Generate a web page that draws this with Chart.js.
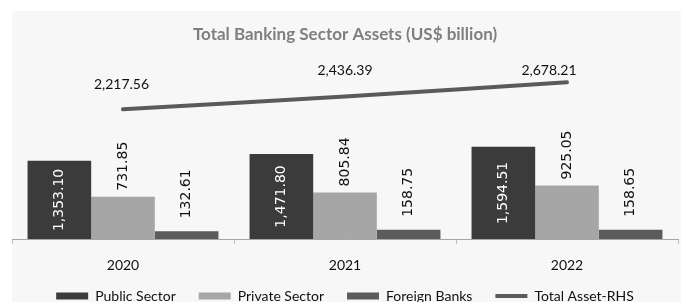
<!DOCTYPE html>
<html>
<head>
<meta charset="utf-8">
<script src="https://cdn.jsdelivr.net/npm/chart.js@4.4.1/dist/chart.umd.min.js"></script>
<style>
  html, body { margin: 0; padding: 0; background: #ffffff; overflow: hidden; width: 681px; height: 302px; }
  #wrap { position: absolute; left: 12px; top: 11px; width: 669px; height: 291px; background: #f7f7f7; overflow: hidden; }
  canvas { display: block; }
</style>
</head>
<body>
<div id="wrap"><canvas id="c" width="669" height="302"></canvas></div>
<script>
// ---- data ----
const categories = ['2020', '2021', '2022'];
const publicSector = [1353.10, 1471.80, 1594.51];
const privateSector = [731.85, 805.84, 925.05];
const foreignBanks = [132.61, 158.75, 158.65];
const totalAsset = [2217.56, 2436.39, 2678.21];
const seriesNames = ['Public Sector', 'Private Sector', 'Foreign Banks', 'Total Asset-RHS'];
const chartTitle = 'Total Banking Sector Assets (US$ billion)';

// ---- styling ----
const COLORS = { pub: '#3b3b3b', pri: '#a6a6a6', for: '#5b5b5b', line: '#5a5a5a' };
const CAL = 'Lato, "Open Sans", sans-serif';
const fmt = v => v.toLocaleString('en-US', { minimumFractionDigits: 2, maximumFractionDigits: 2 });
// placement tweaks for the line labels (dx, dy in px relative to the point)
const lineLabelShift = [[-1.5, -25], [0, -25.5], [-18, -11.5]];
const outsideGap = { 1: 6, 2: 13 };

// let the category labels overlap the legend's empty top padding without being clipped
const axisRoomPlugin = {
  id: 'axisRoom',
  afterLayout(chart) {
    const x = chart.scales.x;
    x.bottom = x.top + 45;
  }
};

const labelPlugin = {
  id: 'valueLabels',
  afterDatasetsDraw(chart) {
    const ctx = chart.ctx;
    ctx.save();
    ctx.font = '14px "DejaVu Sans", Verdana, sans-serif';
    [0, 1, 2].forEach(di => {
      const meta = chart.getDatasetMeta(di);
      meta.data.forEach((bar, i) => {
        const txt = fmt(chart.data.datasets[di].data[i]);
        ctx.save();
        if (di === 0) {
          ctx.translate(bar.x, (bar.y + bar.base) / 2);
          ctx.rotate(-Math.PI / 2);
          ctx.fillStyle = '#ffffff';
          ctx.textAlign = 'center';
        } else {
          ctx.translate(bar.x, bar.y - outsideGap[di]);
          ctx.rotate(-Math.PI / 2);
          ctx.fillStyle = '#111111';
          ctx.textAlign = 'left';
        }
        ctx.textBaseline = 'middle';
        ctx.fillText(txt, 0, 0);
        ctx.restore();
      });
    });
    const lm = chart.getDatasetMeta(3);
    ctx.font = '14px ' + CAL;
    ctx.fillStyle = '#111111';
    ctx.textAlign = 'center';
    ctx.textBaseline = 'middle';
    lm.data.forEach((pt, i) => {
      const s = lineLabelShift[i];
      ctx.fillText(fmt(chart.data.datasets[3].data[i]), pt.x + s[0], pt.y + s[1]);
    });
    ctx.restore();
  }
};

new Chart(document.getElementById('c'), {
  data: {
    labels: categories,
    datasets: [
      { type: 'bar', label: seriesNames[0], data: publicSector, backgroundColor: COLORS.pub, yAxisID: 'y', pointStyle: 'rect' },
      { type: 'bar', label: seriesNames[1], data: privateSector, backgroundColor: COLORS.pri, yAxisID: 'y', pointStyle: 'rect' },
      { type: 'bar', label: seriesNames[2], data: foreignBanks, backgroundColor: COLORS.for, yAxisID: 'y', pointStyle: 'rect' },
      { type: 'line', label: seriesNames[3], data: totalAsset, borderColor: COLORS.line, backgroundColor: COLORS.line,
        borderWidth: 4, pointRadius: 0, pointHoverRadius: 0, pointStyle: 'line', tension: 0.05, borderCapStyle: 'round',
        yAxisID: 'y1' }
    ]
  },
  options: {
    responsive: false,
    devicePixelRatio: 1,
    animation: false,
    layout: { padding: { left: 0, right: 3, top: 0, bottom: 0 } },
    datasets: { bar: { categoryPercentage: 0.86, barPercentage: 1.0, borderWidth: 0 } },
    scales: {
      x: {
        offset: true,
        grid: { display: true, drawOnChartArea: false, drawTicks: true, tickLength: 5, color: '#bfbfbf', offset: true },
        border: { display: true, color: '#a6a6a6', width: 1 },
        ticks: { color: '#111111', font: { family: CAL, size: 14, lineHeight: 0.1 }, padding: 20.3, maxRotation: 0 },
        afterFit: scale => { scale.height = 27; }
      },
      y: { display: false, min: 0, max: 3000 },
      y1: { display: false, min: 0, max: 2964, position: 'right' }
    },
    plugins: {
      title: {
        display: true, text: chartTitle, color: '#7f7f7f',
        font: { family: CAL, size: 17, weight: 'bold' },
        padding: { top: 13.3, bottom: 20.9 }
      },
      legend: {
        position: 'bottom',
        labels: {
          usePointStyle: true, pointStyleWidth: 32, boxHeight: 7, padding: 23,
          color: '#111111', font: { family: CAL, size: 14 }
        }
      },
      tooltip: { enabled: false }
    }
  },
  plugins: [axisRoomPlugin, labelPlugin]
});
</script>
</body>
</html>
